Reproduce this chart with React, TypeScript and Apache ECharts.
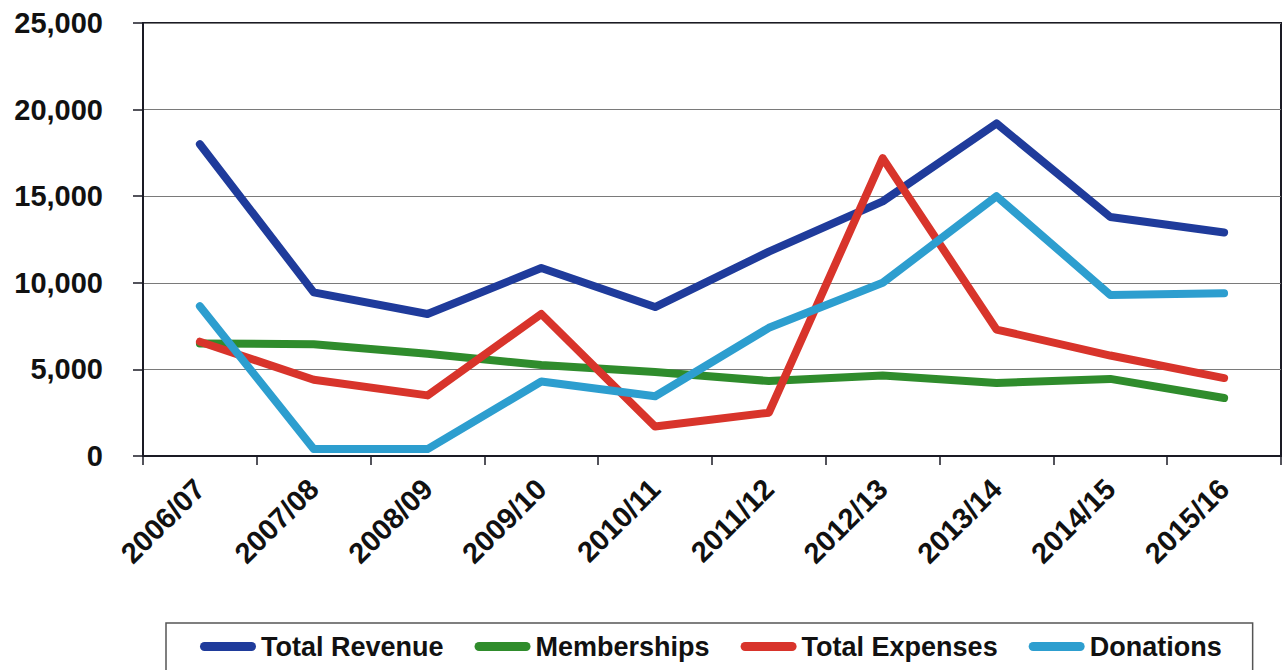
import React, { useEffect, useRef } from "react";
import * as echarts from "echarts";

const categories = ["2006/07", "2007/08", "2008/09", "2009/10", "2010/11", "2011/12", "2012/13", "2013/14", "2014/15", "2015/16"];
const totalRevenue = [18000, 9450, 8200, 10850, 8600, 11800, 14700, 19200, 13800, 12900];
const memberships = [6500, 6450, 5900, 5250, 4850, 4330, 4650, 4220, 4450, 3350];
const totalExpenses = [6600, 4400, 3500, 8200, 1700, 2500, 17200, 7300, 5800, 4500];
const donations = [8650, 400, 400, 4300, 3450, 7400, 10000, 15000, 9300, 9400];
const yTicks = { min: 0, max: 25000, interval: 5000 };

const FONT = "'Liberation Sans', Arial, sans-serif";
const capsule = "path://M4.5,0 L51.5,0 A4.5,4.5 0 0 1 51.5,9 L4.5,9 A4.5,4.5 0 0 1 4.5,0 Z";

export default function App() {
  const ref = useRef<HTMLDivElement>(null);
  useEffect(() => {
    document.body.style.margin = "0";
    const chart = echarts.init(ref.current!, null, { renderer: "svg" });
    const mk = (name: string, data: number[], color: string) => ({
      name,
      type: "line",
      data,
      symbol: "none",
      showSymbol: false,
      lineStyle: { color, width: 8, cap: "round", join: "round" },
      itemStyle: { color },
    });
    chart.setOption({
      animation: false,
      backgroundColor: "#ffffff",
      textStyle: { fontFamily: FONT },
      grid: {
        left: 143,
        right: 6,
        top: 23,
        bottom: 214,
        show: true,
        borderColor: "#1a1a24",
        borderWidth: 2,
        backgroundColor: "transparent",
      },
      legend: {
        left: 166,
        top: 623,
        padding: [10, 31, 20, 34],
        itemGap: 31,
        itemWidth: 56,
        itemHeight: 9,
        icon: capsule,
        borderColor: "#555",
        borderWidth: 1.5,
        textStyle: { fontSize: 27, fontWeight: "bold", color: "#111", fontFamily: FONT, lineHeight: 26 },
        data: ["Total Revenue", "Memberships", "Total Expenses", "Donations"],
      },
      xAxis: {
        type: "category",
        data: categories,
        boundaryGap: true,
        axisLine: { show: true, lineStyle: { color: "#1a1a24", width: 2 } },
        axisTick: { show: true, length: 9, alignWithLabel: false, lineStyle: { color: "#1a1a24", width: 1.5 } },
        axisLabel: {
          rotate: 45,
          margin: 28,
          fontSize: 29,
          fontWeight: "bold",
          color: "#111",
          fontFamily: FONT,
          interval: 0,
        },
        splitLine: { show: false },
      },
      yAxis: {
        type: "value",
        min: yTicks.min,
        max: yTicks.max,
        interval: yTicks.interval,
        axisLine: { show: true, lineStyle: { color: "#1a1a24", width: 2 } },
        axisTick: { show: true, length: 10, lineStyle: { color: "#1a1a24", width: 1.5 } },
        axisLabel: {
          margin: 40,
          fontSize: 29,
          fontWeight: "bold",
          color: "#111",
          fontFamily: FONT,
          formatter: (v: number) => v.toLocaleString("en-US"),
        },
        splitLine: { show: true, lineStyle: { color: "#7a7a7a", width: 1.2 } },
      },
      series: [
        mk("Total Revenue", totalRevenue, "#1f3b9b"),
        mk("Memberships", memberships, "#2f8c2c"),
        mk("Total Expenses", totalExpenses, "#d8342b"),
        mk("Donations", donations, "#2d9ecf"),
      ],
    });
    return () => chart.dispose();
  }, []);
  return <div ref={ref} style={{ width: 1287, height: 670 }} />;
}
